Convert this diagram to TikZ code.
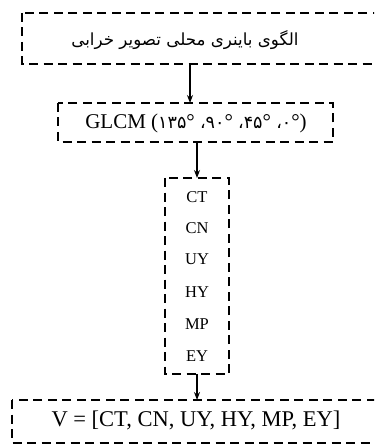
\documentclass[tikz,border=0pt]{standalone}
\usepackage{fontspec}
\setmainfont{Liberation Serif}
\newfontfamily\arabicfont[Script=Arabic]{DejaVu Sans}
\newfontfamily\digitfont{DejaVu Sans}
\TeXXeTstate=1
\usetikzlibrary{arrows.meta}
\newcommand{\latn}{\rmfamily\fontsize{21}{25}\selectfont}
\newcommand{\pdig}{\digitfont\fontsize{17.5}{21}\selectfont}
\begin{document}
\begin{tikzpicture}[x=1pt,y=-1pt,
  dbox/.style={draw=black, line width=2.2pt, dash pattern=on 9pt off 5.5pt},
  arr/.style={draw=black, line width=1.2pt, -{Stealth[length=8pt,width=6pt]}},
  lbl/.style={inner sep=0pt, anchor=center}]
\useasboundingbox (0,0) rectangle (374,446);
\clip (0,0) rectangle (374,446);

% frames
\draw[dbox] (22,13) rectangle (390,64);
\draw[dbox] (58,103) rectangle (333,142);
\draw[dbox] (165,178) rectangle (229,374);
\draw[dbox] (12,400) rectangle (390,443);

% box nodes (for connectors)
\node[inner sep=0pt, minimum width=368pt, minimum height=51pt, anchor=north west] (lbp) at (22,13) {};
\node[inner sep=0pt, minimum width=275pt, minimum height=39pt, anchor=north west] (glcm) at (58,103) {};
\node[inner sep=0pt, minimum width=64pt, minimum height=196pt, anchor=north west] (feat) at (165,178) {};
\node[inner sep=0pt, minimum width=378pt, minimum height=43pt, anchor=north west] (vec) at (12,400) {};

% texts
\node[lbl] (t1) at (185,40) {\fontsize{16.7}{20}\arabicfont\beginR الگوی باینری محلی تصویر خرابی\endR};
\node[lbl] (t2) at (196,123) {\latn GLCM (\pdig ۱۳۵\latn°\ \pdig ،۹۰\latn°\ \pdig ،۴۵\latn°\ \pdig ،۰\latn°)};
\foreach \n/\t/\y in {f1/CT/197, f2/CN/228, f3/UY/259, f4/HY/292, f5/MP/324, f6/EY/356}
  \node[lbl] (\n) at (197,\y) {\fontsize{16.5}{18}\selectfont \t};
\node[lbl] (t3) at (196,420) {\fontsize{22.5}{26}\selectfont V = [CT, CN, UY, HY, MP, EY]};

% connectors
\coordinate (c1) at (190,0);
\coordinate (c2) at (197,0);
\draw[arr] (lbp.south -| c1) -- (glcm.north -| c1);
\draw[arr] (glcm.south -| c2) -- (feat.north -| c2);
\draw[arr] (feat.south -| c2) -- (vec.north -| c2);
\end{tikzpicture}
\end{document}
